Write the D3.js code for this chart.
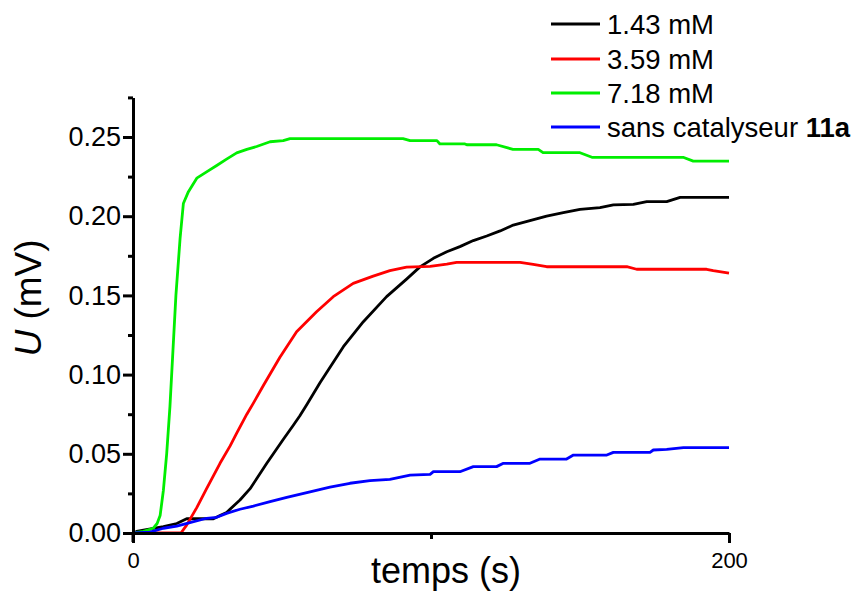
<!DOCTYPE html>
<html>
<head>
<meta charset="utf-8">
<script src="https://cdn.jsdelivr.net/npm/d3@7"></script>
<style>
  html, body { margin: 0; padding: 0; background: #fff; }
  svg { display: block; font-family: "Liberation Sans", Arial, sans-serif; }
</style>
</head>
<body>
<svg id="chart" width="857" height="591"></svg>
<script>
// ---- data ----
const seriesNames = ["1.43 mM", "3.59 mM", "7.18 mM", "sans catalyseur"];
const seriesColors = ["#000000", "#ff0000", "#00ee00", "#0000ff"];

const tBlack = [0, 1.2, 4, 10.2, 14.7, 18, 27, 29.2, 31.4, 35.9, 39.3, 44.9, 48.2, 50.4, 53.8, 56, 58.3, 62.8, 70.6, 77.3, 85.1, 91.8, 96.3, 100.8, 105.3, 109.7, 114.2, 118.7, 123.2, 127.6, 133.2, 138.8, 144.4, 150, 156.7, 161.2, 167.9, 172.4, 179.1, 183.6, 200];
const uBlack = [0, 0.001, 0.002, 0.004, 0.006, 0.009, 0.009, 0.011, 0.013, 0.0208, 0.028, 0.044, 0.053, 0.059, 0.068, 0.074, 0.081, 0.095, 0.1176, 0.1334, 0.1492, 0.1603, 0.168, 0.1734, 0.1776, 0.1808, 0.1846, 0.1875, 0.1907, 0.1944, 0.1972, 0.2001, 0.2022, 0.2043, 0.2054, 0.2071, 0.2075, 0.2092, 0.2092, 0.2119, 0.2119];

const tRed = [0, 16.1, 18, 21.4, 24.7, 29.2, 32.6, 34.8, 38.2, 40.4, 43.7, 49.3, 54.9, 61.6, 67.2, 73.9, 80.6, 86.2, 91.8, 99.7, 105.3, 108.6, 129.9, 134.3, 138.8, 165.7, 169, 192.5, 194.7, 200];
const uRed = [0, 0, 0.005, 0.016, 0.028, 0.044, 0.055, 0.063, 0.075, 0.082, 0.093, 0.111, 0.127, 0.1397, 0.1492, 0.1576, 0.1622, 0.1656, 0.1679, 0.1683, 0.1698, 0.1709, 0.1709, 0.1696, 0.1681, 0.1681, 0.1665, 0.1665, 0.1656, 0.164];

const tGreen = [0, 3.5, 6.8, 8.1, 9.1, 10.2, 11.3, 12.4, 13.4, 14.4, 15.8, 16.9, 18.6, 21.4, 24.7, 28.1, 31.4, 34.8, 38.2, 41.5, 46, 50.4, 52.7, 90.6, 93, 102, 103, 111.4, 112, 122, 127.5, 136, 137.6, 150, 154, 184.6, 188, 200];
const uGreen = [0, 0.001, 0.003, 0.006, 0.011, 0.027, 0.05, 0.08, 0.115, 0.15, 0.186, 0.208, 0.2155, 0.224, 0.228, 0.232, 0.236, 0.24, 0.2422, 0.244, 0.247, 0.2477, 0.249, 0.249, 0.2477, 0.2477, 0.2456, 0.2456, 0.2451, 0.2451, 0.2422, 0.2422, 0.2401, 0.2401, 0.2372, 0.2372, 0.2348, 0.2348];

const tBlue = [0, 5.7, 10.2, 14.7, 19.1, 24.7, 28.1, 31.4, 35.9, 40.4, 46, 51.6, 59.4, 66.1, 72.8, 79.5, 86.2, 93, 99.7, 100.8, 109.7, 114.2, 122, 124.3, 133.2, 136.6, 145.5, 147.8, 159, 161.2, 173.5, 174.6, 179.1, 184.7, 200];
const uBlue = [0, 0.0005, 0.003, 0.0044, 0.0065, 0.0093, 0.0099, 0.0124, 0.015, 0.017, 0.0198, 0.0225, 0.026, 0.0289, 0.0314, 0.033, 0.0339, 0.0366, 0.037, 0.0387, 0.0387, 0.0419, 0.0419, 0.044, 0.044, 0.0467, 0.0467, 0.0492, 0.0492, 0.0509, 0.0509, 0.0524, 0.0528, 0.0539, 0.0539];

const xMajorTicks = [0, 200];
const xMinorTicks = [100];
const yMajorTicks = [0, 0.05, 0.10, 0.15, 0.20, 0.25];
const yMinorTicks = [0.025, 0.075, 0.125, 0.175, 0.225, 0.275];

// ---- layout ----
const svg = d3.select("#chart");
const plotLeft = 133, plotRight = 729, plotBottom = 533, plotTop = 97.4;

const x = d3.scaleLinear().domain([0, 200]).range([plotLeft, plotRight]);
const y = d3.scaleLinear().domain([0, 0.275]).range([plotBottom, plotTop]);

const series = [
  { name: seriesNames[0], color: seriesColors[0], t: tBlack, u: uBlack },
  { name: seriesNames[1], color: seriesColors[1], t: tRed, u: uRed },
  { name: seriesNames[2], color: seriesColors[2], t: tGreen, u: uGreen },
  { name: seriesNames[3], color: seriesColors[3], t: tBlue, u: uBlue }
];

svg.append("defs").append("clipPath").attr("id", "clip")
  .append("rect").attr("x", plotLeft).attr("y", plotTop - 5)
  .attr("width", plotRight - plotLeft + 1).attr("height", plotBottom - plotTop + 6);

const line = d3.line().x(d => x(d[0])).y(d => y(d[1]));

const plot = svg.append("g").attr("clip-path", "url(#clip)");
series.forEach(s => {
  plot.append("path")
    .datum(s.t.map((t, i) => [t, s.u[i]]))
    .attr("fill", "none")
    .attr("stroke", s.color)
    .attr("stroke-width", 2.8)
    .attr("stroke-linejoin", "round")
    .attr("d", line);
});

// ---- axes ----
const axisW = 3;
const xAxis = svg.append("g").attr("transform", `translate(0,${plotBottom})`)
  .call(d3.axisBottom(x).tickValues(xMajorTicks).tickSize(10).tickSizeOuter(0).tickFormat(d3.format("d")));
xAxis.select(".domain").attr("stroke", "#000").attr("stroke-width", axisW);
xAxis.selectAll(".tick line").attr("stroke", "#000").attr("stroke-width", axisW);
xAxis.selectAll(".tick text").attr("font-size", 22).attr("fill", "#000").attr("dy", "0.71em").attr("y", 19)
  .style("font-family", "'Liberation Sans', Arial, sans-serif");
const xMinor = svg.append("g").attr("transform", `translate(0,${plotBottom})`)
  .call(d3.axisBottom(x).tickValues(xMinorTicks).tickSize(6).tickSizeOuter(0).tickFormat(""));
xMinor.select(".domain").remove();
xMinor.selectAll(".tick line").attr("stroke", "#000").attr("stroke-width", axisW);

const yAxis = svg.append("g").attr("transform", `translate(${plotLeft},0)`)
  .call(d3.axisLeft(y).tickValues(yMajorTicks).tickSize(10).tickSizeOuter(0).tickFormat(d3.format(".2f")));
yAxis.select(".domain").attr("stroke", "#000").attr("stroke-width", axisW);
yAxis.selectAll(".tick line").attr("stroke", "#000").attr("stroke-width", axisW);
yAxis.selectAll(".tick text").attr("font-size", 27).attr("fill", "#000").attr("x", -12)
  .style("font-family", "'Liberation Sans', Arial, sans-serif");
const yMinor = svg.append("g").attr("transform", `translate(${plotLeft},0)`)
  .call(d3.axisLeft(y).tickValues(yMinorTicks).tickSize(5).tickSizeOuter(0).tickFormat(""));
yMinor.select(".domain").remove();
yMinor.selectAll(".tick line").attr("stroke", "#000").attr("stroke-width", axisW);

svg.append("line").attr("x1", plotLeft).attr("x2", plotLeft).attr("y1", plotBottom).attr("y2", plotBottom + 9)
  .attr("stroke", "#000").attr("stroke-width", axisW);

// axis titles
svg.append("text").attr("x", 446).attr("y", 583).attr("text-anchor", "middle")
  .attr("font-size", 36).attr("fill", "#000").text("temps (s)");

const yt = svg.append("text").attr("transform", "translate(41,298) rotate(-90)")
  .attr("text-anchor", "middle").attr("font-size", 37).attr("fill", "#000");
yt.append("tspan").attr("font-style", "italic").text("U");
yt.append("tspan").text(" (mV)");

// ---- legend ----
const legend = svg.append("g");
const legendY = [24, 59, 93, 127];
series.forEach((s, i) => {
  legend.append("line").attr("x1", 551).attr("x2", 600).attr("y1", legendY[i]).attr("y2", legendY[i])
    .attr("stroke", s.color).attr("stroke-width", 2.8);
  const tx = legend.append("text").attr("x", 607).attr("y", legendY[i] + 9.5)
    .attr("font-size", 27.5).attr("fill", "#000");
  tx.append("tspan").text(s.name);
  if (i === 3) tx.append("tspan").attr("font-weight", "bold").text(" 11a");
});
</script>
</body>
</html>
